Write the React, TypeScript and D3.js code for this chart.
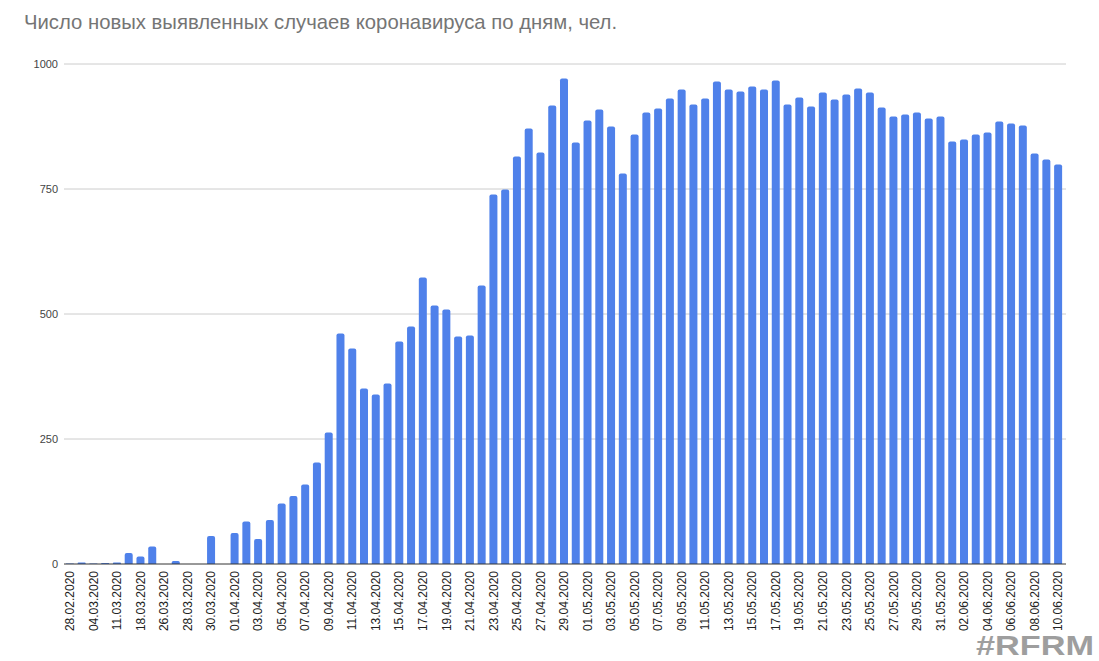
import React from "react";
import * as d3 from "d3";

const TITLE = "Число новых выявленных случаев коронавируса по дням, чел.";

const earlyDates = ["28.02.2020", "02.03.2020", "04.03.2020", "06.03.2020", "11.03.2020", "15.03.2020", "18.03.2020", "20.03.2020"];

// consecutive days 26.03.2020 .. 10.06.2020
const dailyStart = new Date(2020, 2, 26);
const dailyEnd = new Date(2020, 5, 10);
const fmt = d3.timeFormat("%d.%m.%Y");
const dailyDates = d3.timeDay.range(dailyStart, d3.timeDay.offset(dailyEnd, 1)).map(fmt);

const categories: string[] = [...earlyDates, ...dailyDates];

const values: number[] = [
  1, 3, 1, 2, 3, 22, 15, 35,
  0, 6, 0, 0, 56, 0, 62, 85, 50, 88, 121, 136, 159, 203, 263, 461, 431, 351, 339, 361, 445, 475,
  573, 517, 509, 455, 457, 557, 739, 749, 815, 871, 823, 917, 971, 843, 887, 909, 875, 781, 859, 903,
  911, 931, 949, 919, 931, 965, 949, 945, 955, 949, 967, 919, 933, 915, 943, 929, 939, 951, 943, 913,
  895, 899, 903, 891, 895, 845, 849, 859, 863, 885, 881, 877, 821, 809, 799,
];

const yTicks: number[] = [0, 250, 500, 750, 1000];

const W = 1099;
const H = 661;
const plotLeft = 64;
const plotRight = 1066;
const plotTop = 64;
const plotBottom = 564;

export default function App() {
  const x = d3.scaleBand<string>().domain(categories).range([64, 1064]).paddingInner(0.32).paddingOuter(0.16);
  const y = d3.scaleLinear().domain([0, 1000]).range([plotBottom, plotTop]);
  const font = "'Liberation Sans', Arial, sans-serif";

  return (
    <svg width={W} height={H} style={{ position: "absolute", left: 0, top: 0, background: "#fff" }} fontFamily={font}>
      <rect x={0} y={0} width={W} height={H} fill="#fff" />
      <text x={24} y={29} fontSize={20.3} fill="#757575">{TITLE}</text>

      {yTicks.map((t) => (
        <g key={t}>
          {t !== 0 && <line x1={plotLeft} x2={plotRight} y1={y(t)} y2={y(t)} stroke="#cccccc" strokeWidth={1} />}
          <text x={58} y={y(t)} dy="0.35em" textAnchor="end" fontSize={11} fill="#444">{t}</text>
        </g>
      ))}

      {categories.map((c, i) => {
        const v = values[i];
        if (!v) return null;
        const bx = x(c)!;
        const bw = x.bandwidth();
        const top = y(v);
        const h = plotBottom - top;
        const r = Math.min(2, h / 2);
        const path = `M${bx},${plotBottom} L${bx},${top + r} Q${bx},${top} ${bx + r},${top} L${bx + bw - r},${top} Q${bx + bw},${top} ${bx + bw},${top + r} L${bx + bw},${plotBottom} Z`;
        return <path key={c} d={path} fill="#4f81ea" />;
      })}

      <line x1={plotLeft} x2={plotRight} y1={plotBottom} y2={plotBottom} stroke="#333" strokeWidth={1} />

      {categories.map((c, i) => {
        if (i % 2 !== 0) return null;
        const cx = x(c)! + x.bandwidth() / 2;
        return (
          <text key={c} transform={`translate(${cx},${571}) rotate(-90)`} textAnchor="end" dy="0.35em" fontSize={12} fill="#222">
            {c}
          </text>
        );
      })}

      <text x={976} y={655} fontSize={28} fontWeight="bold" fill="#9e9e9e" textLength={118} lengthAdjust="spacingAndGlyphs">#RFRM</text>
    </svg>
  );
}
